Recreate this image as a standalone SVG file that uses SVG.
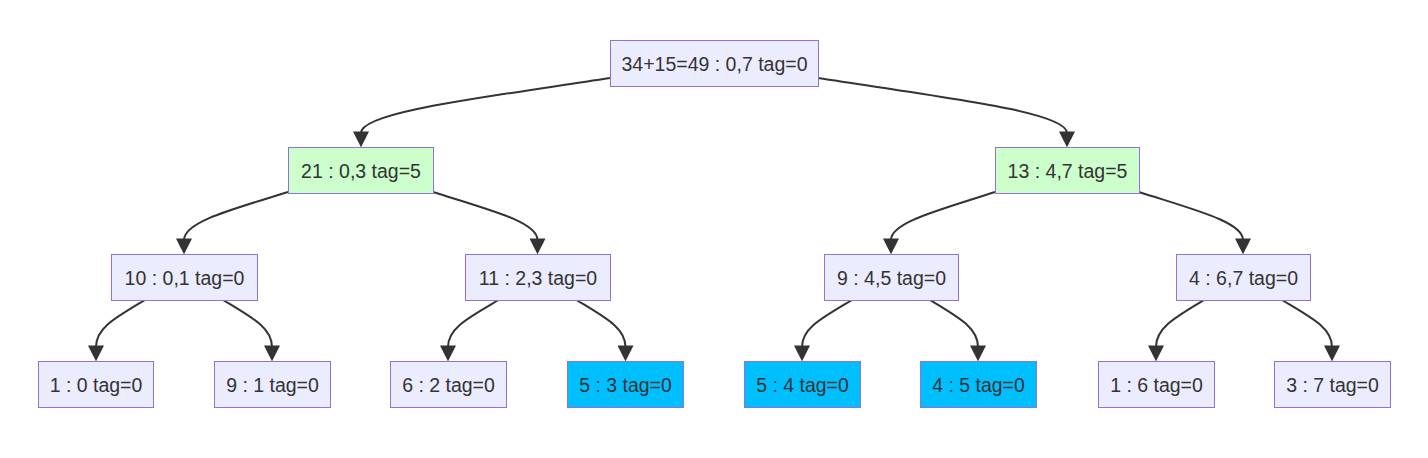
<svg xmlns="http://www.w3.org/2000/svg" width="1428" height="458" viewBox="0 0 1428 458">
<style>
.n rect{fill:#ECECFF;stroke:#9370DB;stroke-width:1}
.g rect{fill:#CCFFCC}
.b rect{fill:#00BFFF}
.n text{font-family:"Liberation Sans",Arial,sans-serif;font-size:19.5px;fill:#333;text-anchor:middle;dominant-baseline:central}
.e path{fill:none;stroke:#333;stroke-width:2;marker-end:url(#arr)}
</style>
<defs>
<marker id="arr" viewBox="0 0 10 10" refX="1" refY="5" markerUnits="userSpaceOnUse" markerWidth="16" markerHeight="16" orient="auto">
<path d="M0,0 L10,5 L0,10 z" fill="#333"/>
</marker>
</defs>
<rect width="1428" height="458" fill="#ffffff"/>
<g class="e">
<path d="M610,78 C480,98 361,112 361,133"/>
<path d="M818,78 C948,98 1067,112 1067,133"/>
<path d="M288,192 C230,210 184,222 184,240"/>
<path d="M433,192 C490,210 537.5,222 537.5,240"/>
<path d="M995,192 C940,210 891,222 891,240"/>
<path d="M1139,192 C1195,210 1243,222 1243,240"/>
<path d="M145,300 C115,318 96,328 96,347"/>
<path d="M223,300 C253,318 272,328 272,347"/>
<path d="M498.5,300 C468,318 448,328 448,347"/>
<path d="M576.5,300 C606,318 625.5,328 625.5,347"/>
<path d="M852,300 C822,318 802,328 802,347"/>
<path d="M930,300 C960,318 978,328 978,347"/>
<path d="M1204,300 C1174,318 1156,328 1156,347"/>
<path d="M1282,300 C1312,318 1332,328 1332,347"/>
</g>
<g id="root" class="n"><rect x="610.5" y="40.5" width="208" height="46"/><text x="714.5" y="63.5">34+15=49 : 0,7 tag=0</text></g>
<g id="n03" class="n g"><rect x="288.5" y="147.5" width="145" height="46"/><text x="361" y="170.5">21 : 0,3 tag=5</text></g>
<g id="n47" class="n g"><rect x="995.5" y="147.5" width="144" height="46"/><text x="1067.5" y="170.5">13 : 4,7 tag=5</text></g>
<g id="n01" class="n"><rect x="111.5" y="254.5" width="146" height="46"/><text x="184.5" y="277.5">10 : 0,1 tag=0</text></g>
<g id="n23" class="n"><rect x="465.5" y="254.5" width="145" height="46"/><text x="538" y="277.5">11 : 2,3 tag=0</text></g>
<g id="n45" class="n"><rect x="824.5" y="254.5" width="134" height="46"/><text x="891.5" y="277.5">9 : 4,5 tag=0</text></g>
<g id="n67" class="n"><rect x="1176.5" y="254.5" width="134" height="46"/><text x="1243.5" y="277.5">4 : 6,7 tag=0</text></g>
<g id="n0" class="n"><rect x="38.5" y="361.5" width="115" height="46"/><text x="96" y="384.5">1 : 0 tag=0</text></g>
<g id="n1" class="n"><rect x="214.5" y="361.5" width="116" height="46"/><text x="272.5" y="384.5">9 : 1 tag=0</text></g>
<g id="n2" class="n"><rect x="390.5" y="361.5" width="116" height="46"/><text x="448.5" y="384.5">6 : 2 tag=0</text></g>
<g id="n3" class="n b"><rect x="567.5" y="361.5" width="116" height="46"/><text x="625.5" y="384.5">5 : 3 tag=0</text></g>
<g id="n4" class="n b"><rect x="744.5" y="361.5" width="116" height="46"/><text x="802.5" y="384.5">5 : 4 tag=0</text></g>
<g id="n5" class="n b"><rect x="920.5" y="361.5" width="116" height="46"/><text x="978.5" y="384.5">4 : 5 tag=0</text></g>
<g id="n6" class="n"><rect x="1098.5" y="361.5" width="116" height="46"/><text x="1156.5" y="384.5">1 : 6 tag=0</text></g>
<g id="n7" class="n"><rect x="1274.5" y="361.5" width="116" height="46"/><text x="1332.5" y="384.5">3 : 7 tag=0</text></g>
</svg>
